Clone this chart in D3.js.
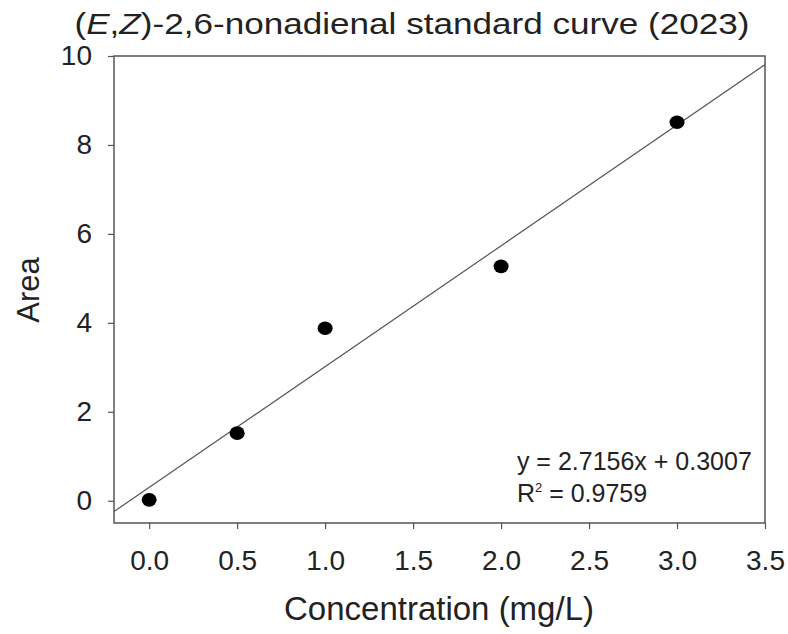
<!DOCTYPE html>
<html>
<head>
<meta charset="utf-8">
<script src="https://cdn.jsdelivr.net/npm/d3@7"></script>
<style>
  html, body { margin: 0; padding: 0; background: #fff; }
  svg text { font-family: "Liberation Sans", Arial, sans-serif; fill: #222; }
</style>
</head>
<body>
<div id="chart"></div>
<script>
// data
const concentration = [0.0, 0.5, 1.0, 2.0, 3.0];
const area = [0.02, 1.52, 3.88, 5.27, 8.51];
const slope = 2.7156;
const intercept = 0.3007;
const rSquared = 0.9759;
const xTicks = [0.0, 0.5, 1.0, 1.5, 2.0, 2.5, 3.0, 3.5];
const yTicks = [0, 2, 4, 6, 8, 10];

const width = 788, height = 634;
const margin = { top: 56, right: 23, bottom: 111, left: 114 };
const innerW = width - margin.left - margin.right;
const innerH = height - margin.top - margin.bottom;

const svg = d3.select('#chart').append('svg')
    .attr('width', width)
    .attr('height', height);

const x = d3.scaleLinear().domain([-0.2, 3.5]).range([0, innerW]);
const y = d3.scaleLinear().domain([-0.5, 10]).range([innerH, 0]);

const g = svg.append('g').attr('transform', `translate(${margin.left},${margin.top})`);

// clip for the fit line
g.append('clipPath').attr('id', 'plotClip')
  .append('rect').attr('width', innerW).attr('height', innerH);

// regression line across the full x range
const fitX = x.domain();
g.append('line')
    .attr('clip-path', 'url(#plotClip)')
    .attr('x1', x(fitX[0])).attr('y1', y(slope * fitX[0] + intercept))
    .attr('x2', x(fitX[1])).attr('y2', y(slope * fitX[1] + intercept))
    .attr('stroke', '#555')
    .attr('stroke-width', 1.2);

// points
g.append('g').selectAll('ellipse')
    .data(concentration.map((c, i) => [c, area[i]]))
    .join('ellipse')
    .attr('cx', d => x(d[0]))
    .attr('cy', d => y(d[1]))
    .attr('rx', 7.5)
    .attr('ry', 6.8)
    .attr('fill', '#000');

// frame
g.append('rect')
    .attr('width', innerW).attr('height', innerH)
    .attr('fill', 'none')
    .attr('stroke', '#555')
    .attr('stroke-width', 1.5);

// axes
const xAxis = g.append('g')
    .attr('transform', `translate(0,${innerH})`)
    .call(d3.axisBottom(x).tickValues(xTicks).tickFormat(d3.format('.1f')).tickSize(6).tickPadding(21));
const yAxis = g.append('g')
    .call(d3.axisLeft(y).tickValues(yTicks).tickFormat(d3.format('d')).tickSize(6).tickPadding(16));

[xAxis, yAxis].forEach(a => {
  a.select('.domain').remove();
  a.selectAll('.tick line').attr('stroke', '#555').attr('stroke-width', 1.2);
  a.selectAll('.tick text').style('font-size', '28px').style('fill', '#222');
});

// title with italic E and Z
const title = svg.append('text')
    .attr('x', 412).attr('y', 34)
    .attr('text-anchor', 'middle')
    .attr('textLength', 675)
    .attr('lengthAdjust', 'spacingAndGlyphs')
    .style('font-size', '29px');
title.append('tspan').text('(');
title.append('tspan').style('font-style', 'italic').text('E');
title.append('tspan').text(',');
title.append('tspan').style('font-style', 'italic').text('Z');
title.append('tspan').text(')-2,6-nonadienal standard curve (2023)');

// axis titles
svg.append('text')
    .attr('x', 439).attr('y', 620)
    .attr('text-anchor', 'middle')
    .style('font-size', '33px')
    .text('Concentration (mg/L)');

svg.append('text')
    .attr('transform', `translate(39,290) rotate(-90)`)
    .attr('text-anchor', 'middle')
    .style('font-size', '31px')
    .text('Area');

// equation
const eq = g.append('g').attr('transform', `translate(${x(2.09)},0)`);
eq.append('text')
    .attr('y', y(0.7))
    .style('font-size', '25px')
    .text(`y = ${slope}x + ${intercept}`);
const r2 = eq.append('text')
    .attr('y', y(-0.02))
    .style('font-size', '25px');
r2.append('tspan').text('R');
r2.append('tspan').attr('dy', -10).style('font-size', '13px').text('2');
r2.append('tspan').attr('dy', 10).text(` = ${rSquared}`);
</script>
</body>
</html>
